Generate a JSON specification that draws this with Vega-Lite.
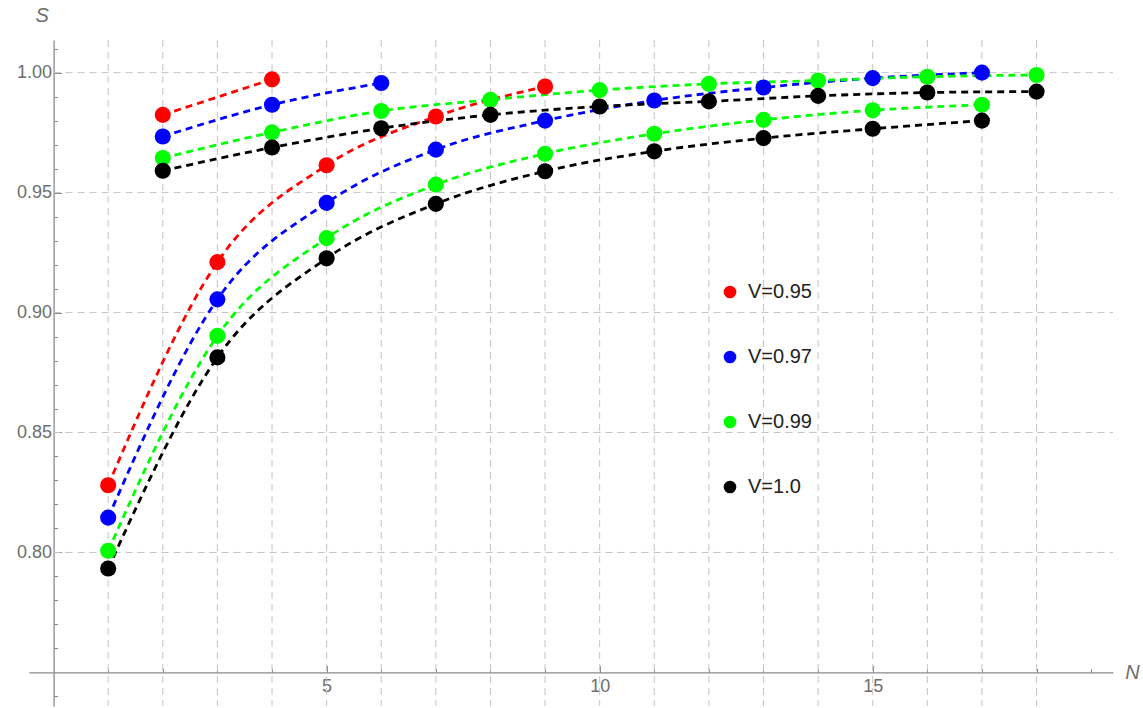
{
  "$schema": "https://vega.github.io/schema/vega-lite/v6.json",
  "width": 1084,
  "height": 666,
  "autosize": "none",
  "padding": {"left": 29, "top": 40, "right": 30, "bottom": 2},
  "background": "white",
  "config": {
    "view": {"stroke": null},
    "font": "Liberation Sans",
    "axis": {"grid": false, "domainColor": "#8a8a8a", "tickColor": "#8a8a8a", "domainWidth": 1.3, "labelColor": "#6e6e6e", "labelFont": "Liberation Sans", "labelFontSize": 18, "titleColor": "#6e6e6e", "titleFont": "Liberation Sans", "titleFontSize": 20, "titleFontWeight": "normal", "titleFontStyle": "italic"}
  },
  "datasets": {
    "series": [
      {"V": "V=0.95", "branch": "odd", "N": 1, "S": 0.828},
      {"V": "V=0.95", "branch": "odd", "N": 3, "S": 0.921},
      {"V": "V=0.95", "branch": "odd", "N": 5, "S": 0.9614},
      {"V": "V=0.95", "branch": "odd", "N": 7, "S": 0.9817},
      {"V": "V=0.95", "branch": "odd", "N": 9, "S": 0.9942},
      {"V": "V=0.95", "branch": "even", "N": 2, "S": 0.9824},
      {"V": "V=0.95", "branch": "even", "N": 4, "S": 0.9972},
      {"V": "V=0.97", "branch": "odd", "N": 1, "S": 0.8145},
      {"V": "V=0.97", "branch": "odd", "N": 3, "S": 0.9055},
      {"V": "V=0.97", "branch": "odd", "N": 5, "S": 0.9457},
      {"V": "V=0.97", "branch": "odd", "N": 7, "S": 0.9679},
      {"V": "V=0.97", "branch": "odd", "N": 9, "S": 0.98},
      {"V": "V=0.97", "branch": "odd", "N": 11, "S": 0.9884},
      {"V": "V=0.97", "branch": "odd", "N": 13, "S": 0.9938},
      {"V": "V=0.97", "branch": "odd", "N": 15, "S": 0.9977},
      {"V": "V=0.97", "branch": "odd", "N": 17, "S": 1.0},
      {"V": "V=0.97", "branch": "even", "N": 2, "S": 0.9734},
      {"V": "V=0.97", "branch": "even", "N": 4, "S": 0.9866},
      {"V": "V=0.97", "branch": "even", "N": 6, "S": 0.9957},
      {"V": "V=0.99", "branch": "odd", "N": 1, "S": 0.8007},
      {"V": "V=0.99", "branch": "odd", "N": 3, "S": 0.8903},
      {"V": "V=0.99", "branch": "odd", "N": 5, "S": 0.931},
      {"V": "V=0.99", "branch": "odd", "N": 7, "S": 0.9533},
      {"V": "V=0.99", "branch": "odd", "N": 9, "S": 0.9662},
      {"V": "V=0.99", "branch": "odd", "N": 11, "S": 0.9745},
      {"V": "V=0.99", "branch": "odd", "N": 13, "S": 0.9803},
      {"V": "V=0.99", "branch": "odd", "N": 15, "S": 0.9843},
      {"V": "V=0.99", "branch": "odd", "N": 17, "S": 0.9866},
      {"V": "V=0.99", "branch": "even", "N": 2, "S": 0.9644},
      {"V": "V=0.99", "branch": "even", "N": 4, "S": 0.9751},
      {"V": "V=0.99", "branch": "even", "N": 6, "S": 0.984},
      {"V": "V=0.99", "branch": "even", "N": 8, "S": 0.9887},
      {"V": "V=0.99", "branch": "even", "N": 10, "S": 0.9927},
      {"V": "V=0.99", "branch": "even", "N": 12, "S": 0.9953},
      {"V": "V=0.99", "branch": "even", "N": 14, "S": 0.9967},
      {"V": "V=0.99", "branch": "even", "N": 16, "S": 0.9983},
      {"V": "V=0.99", "branch": "even", "N": 18, "S": 0.999},
      {"V": "V=1.0", "branch": "odd", "N": 1, "S": 0.7933},
      {"V": "V=1.0", "branch": "odd", "N": 3, "S": 0.8813},
      {"V": "V=1.0", "branch": "odd", "N": 5, "S": 0.9226},
      {"V": "V=1.0", "branch": "odd", "N": 7, "S": 0.9453},
      {"V": "V=1.0", "branch": "odd", "N": 9, "S": 0.9589},
      {"V": "V=1.0", "branch": "odd", "N": 11, "S": 0.9672},
      {"V": "V=1.0", "branch": "odd", "N": 13, "S": 0.9727},
      {"V": "V=1.0", "branch": "odd", "N": 15, "S": 0.9766},
      {"V": "V=1.0", "branch": "odd", "N": 17, "S": 0.98},
      {"V": "V=1.0", "branch": "even", "N": 2, "S": 0.9591},
      {"V": "V=1.0", "branch": "even", "N": 4, "S": 0.9688},
      {"V": "V=1.0", "branch": "even", "N": 6, "S": 0.9768},
      {"V": "V=1.0", "branch": "even", "N": 8, "S": 0.9824},
      {"V": "V=1.0", "branch": "even", "N": 10, "S": 0.9859},
      {"V": "V=1.0", "branch": "even", "N": 12, "S": 0.988},
      {"V": "V=1.0", "branch": "even", "N": 14, "S": 0.9903},
      {"V": "V=1.0", "branch": "even", "N": 16, "S": 0.9917},
      {"V": "V=1.0", "branch": "even", "N": 18, "S": 0.9921}
    ],
    "gridN": [{"N": 1}, {"N": 2}, {"N": 3}, {"N": 4}, {"N": 5}, {"N": 6}, {"N": 7}, {"N": 8}, {"N": 9}, {"N": 10}, {"N": 11}, {"N": 12}, {"N": 13}, {"N": 14}, {"N": 15}, {"N": 16}, {"N": 17}, {"N": 18}],
    "gridS": [{"S": 0.8}, {"S": 0.85}, {"S": 0.9}, {"S": 0.95}, {"S": 1.0}]
  },
  "layer": [
    {
      "data": {"name": "gridN"},
      "mark": {"type": "rule", "color": "#c4c4c4", "strokeWidth": 1, "strokeDash": [7, 5]},
      "encoding": {
        "x": {"field": "N", "type": "quantitative", "scale": {"domain": [-0.45, 19.4], "nice": false, "zero": false}, "axis": null}
      }
    },
    {
      "data": {"name": "gridS"},
      "mark": {"type": "rule", "color": "#c4c4c4", "strokeWidth": 1, "strokeDash": [7, 5]},
      "encoding": {
        "y": {"field": "S", "type": "quantitative", "scale": {"domain": [0.736, 1.0136], "nice": false, "zero": false}, "axis": null},
        "x": {"datum": 0, "type": "quantitative", "scale": {"domain": [-0.45, 19.4], "nice": false, "zero": false}, "axis": null},
        "x2": {"datum": 19.4}
      }
    },
    {
      "data": {"name": "series"},
      "mark": {"type": "line", "interpolate": "monotone", "strokeWidth": 2.8, "strokeDash": [7, 5]},
      "encoding": {
        "x": {"field": "N", "type": "quantitative", "scale": {"domain": [-0.45, 19.4], "nice": false, "zero": false},
          "axis": {"orient": "bottom", "offset": -33.6, "values": [5, 10, 15], "tickSize": -7, "labelPadding": 12, "domain": true, "title": "N", "titleAngle": 0, "titleX": 1103, "titleY": 0, "titleAlign": "center", "titleBaseline": "middle"}},
        "y": {"field": "S", "type": "quantitative", "scale": {"domain": [0.736, 1.0136], "nice": false, "zero": false},
          "axis": {"orient": "left", "offset": -24.6, "values": [0.8, 0.85, 0.9, 0.95, 1.0], "format": ".2f", "tickSize": -8, "labelPadding": 10, "domain": true, "title": "S", "titleAngle": 0, "titleX": -12, "titleY": -25, "titleAlign": "center", "titleBaseline": "middle"}},
        "color": {"field": "V", "type": "nominal", "scale": {"domain": ["V=0.95", "V=0.97", "V=0.99", "V=1.0"], "range": ["#ff0000", "#0000ff", "#00ff00", "#000000"]},
          "legend": {"orient": "none", "legendX": 691, "legendY": 242, "title": null, "symbolSize": 160, "symbolType": "circle", "symbolStrokeWidth": 0, "labelFontSize": 20, "labelColor": "#222222", "labelFont": "Liberation Sans", "rowPadding": 45, "labelOffset": 8}},
        "detail": {"field": "branch"}
      }
    },
    {
      "data": {"name": "series"},
      "mark": {"type": "point", "filled": true, "opacity": 1, "size": 260, "shape": "circle"},
      "encoding": {
        "x": {"field": "N", "type": "quantitative", "scale": {"domain": [-0.45, 19.4], "nice": false, "zero": false},
          "axis": {"orient": "bottom", "offset": -33.6, "values": [1,2,3,4,5,6,7,8,9,10,11,12,13,14,15,16,17,18,19], "tickSize": -4, "labels": false, "domain": false, "title": null}},
        "y": {"field": "S", "type": "quantitative", "scale": {"domain": [0.736, 1.0136], "nice": false, "zero": false},
          "axis": {"orient": "left", "offset": -24.6, "values": [0.74,0.76,0.77,0.78,0.79,0.81,0.82,0.83,0.84,0.86,0.87,0.88,0.89,0.91,0.92,0.93,0.94,0.96,0.97,0.98,0.99,1.01], "tickSize": -4, "labels": false, "domain": false, "title": null}},
        "color": {"field": "V", "type": "nominal", "scale": {"domain": ["V=0.95", "V=0.97", "V=0.99", "V=1.0"], "range": ["#ff0000", "#0000ff", "#00ff00", "#000000"]},
          "legend": {"orient": "none", "legendX": 691, "legendY": 242, "title": null, "symbolSize": 160, "symbolType": "circle", "symbolStrokeWidth": 0, "labelFontSize": 20, "labelColor": "#222222", "labelFont": "Liberation Sans", "rowPadding": 45, "labelOffset": 8}}
      }
    }
  ],
  "resolve": {"axis": {"x": "independent", "y": "independent"}}
}
